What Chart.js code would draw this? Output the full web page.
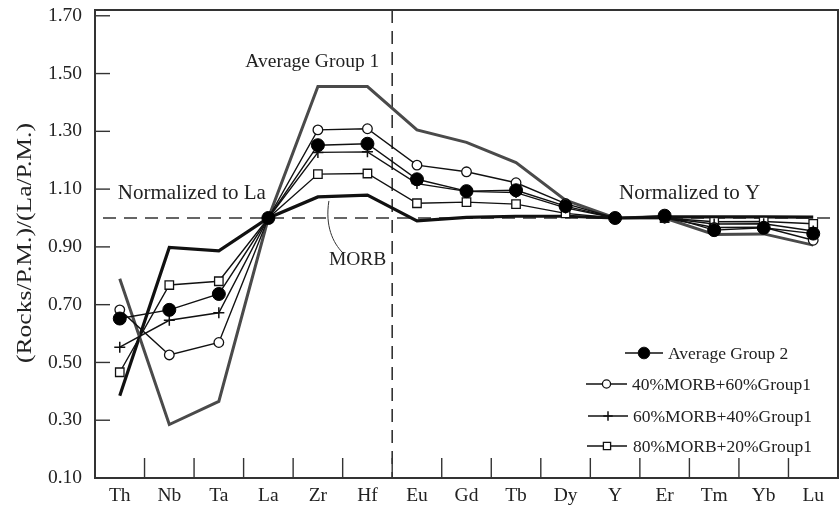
<!DOCTYPE html>
<html><head><meta charset="utf-8">
<script src="https://cdn.jsdelivr.net/npm/chart.js@4/dist/chart.umd.min.js"></script>
<style>html,body{margin:0;padding:0;background:#fff;overflow:hidden}#wrap{width:839px;height:508px}canvas{display:block}</style>
</head><body><div id="wrap"><canvas id="c" width="839" height="508"></canvas></div>
<script>
const elements = ['Th','Nb','Ta','La','Zr','Hf','Eu','Gd','Tb','Dy','Y','Er','Tm','Yb','Lu'];
const yTicks = [0.10,0.30,0.50,0.70,0.90,1.10,1.30,1.50,1.70];
const averageGroup1 = [0.79,0.285,0.365,1.00,1.455,1.455,1.305,1.262,1.192,1.062,1.00,1.00,0.943,0.945,0.906];
const morb          = [0.385,0.898,0.886,1.00,1.073,1.079,0.99,1.002,1.006,1.006,1.00,1.004,1.004,1.004,1.003];
const averageGroup2 = [0.652,0.682,0.737,1.00,1.252,1.257,1.134,1.093,1.096,1.041,1.00,1.008,0.958,0.966,0.946];
const mix40         = [0.682,0.526,0.569,1.00,1.305,1.309,1.183,1.160,1.122,1.050,1.00,1.00,0.967,0.968,0.923];
const mix60         = [0.553,0.646,0.672,1.00,1.227,1.229,1.119,1.092,1.088,1.035,1.00,1.00,0.979,0.980,0.955];
const mix80         = [0.466,0.768,0.781,1.00,1.152,1.154,1.051,1.055,1.048,1.016,1.00,1.00,0.987,0.988,0.980];
const seriesNames = ['Average Group 2','40%MORB+60%Group1','60%MORB+40%Group1','80%MORB+20%Group1','Average Group 1','MORB'];
const yTitle = '(Rocks/P.M.)/(La/P.M.)';
const SERIF = '"Liberation Serif","Times New Roman",serif';

const decor = {
  id:'decor',
  beforeDatasetsDraw(chart){
    const {ctx, chartArea:a, scales:{x,y}} = chart;
    ctx.save();
    ctx.strokeStyle = '#333'; ctx.lineWidth = 1.6;
    ctx.setLineDash([13,8]);
    const y1 = y.getPixelForValue(1.00);
    ctx.beginPath(); ctx.moveTo(a.left+8, y1); ctx.lineTo(a.right+2, y1); ctx.stroke();
    const xv = (x.getPixelForValue(5)+x.getPixelForValue(6))/2;
    ctx.beginPath(); ctx.moveTo(xv, a.top); ctx.lineTo(xv, a.bottom); ctx.stroke();
    ctx.setLineDash([]);
    ctx.lineWidth = 1.4; ctx.strokeStyle = '#333';
    yTicks.forEach(v=>{const p=y.getPixelForValue(v); ctx.beginPath(); ctx.moveTo(a.left, p); ctx.lineTo(a.left+15, p); ctx.stroke();});
    for(let i=0;i<elements.length-1;i++){
      const p=(x.getPixelForValue(i)+x.getPixelForValue(i+1))/2;
      ctx.beginPath(); ctx.moveTo(p, a.bottom); ctx.lineTo(p, a.bottom-20); ctx.stroke();
    }
    ctx.lineWidth = 2; ctx.strokeStyle='#333';
    ctx.beginPath(); ctx.moveTo(a.left, a.top); ctx.lineTo(a.right, a.top); ctx.lineTo(a.right, a.bottom); ctx.stroke();
    const sx = x.getPixelForValue(4)+11, sy = y.getPixelForValue(morb[4])+4;
    ctx.lineWidth = 1; ctx.strokeStyle='#333';
    ctx.beginPath(); ctx.moveTo(sx, sy); ctx.bezierCurveTo(sx-4, sy+25, sx+4, sy+42, sx+14, sy+52); ctx.stroke();
    ctx.restore();
  },
  afterDraw(chart){
    const {ctx, chartArea:a, scales:{x,y}} = chart;
    ctx.save();
    ctx.fillStyle = '#222'; ctx.textBaseline='middle'; ctx.textAlign='left';
    ctx.font = '19.5px '+SERIF;
    ctx.fillText('Average Group 1', x.getPixelForValue(3)-23, y.getPixelForValue(1.54));
    ctx.fillText('MORB', x.getPixelForValue(4)+11, y.getPixelForValue(0.855));
    ctx.font = '21px '+SERIF;
    ctx.fillText('Normalized to La', x.getPixelForValue(0)-2, y.getPixelForValue(1.085));
    ctx.fillText('Normalized to Y', x.getPixelForValue(10)+4, y.getPixelForValue(1.085));
    ctx.save();
    ctx.font = '20px '+SERIF;
    const w = ctx.measureText(yTitle).width;
    ctx.translate(26, 243);
    ctx.rotate(-Math.PI/2);
    ctx.scale(240/w, 1);
    ctx.textAlign='center';
    ctx.fillText(yTitle, 0, 0);
    ctx.restore();
    const legend = [
      {ds:0, x0:625, x1:663, ty:353, tx:668},
      {ds:1, x0:586, x1:627, ty:384, tx:632},
      {ds:2, x0:588, x1:628, ty:416, tx:633},
      {ds:3, x0:587, x1:627, ty:446, tx:633}
    ];
    ctx.font = '17.5px '+SERIF;
    legend.forEach(l=>{
      const d = chart.data.datasets[l.ds];
      ctx.strokeStyle='#111'; ctx.lineWidth=1.5;
      ctx.beginPath(); ctx.moveTo(l.x0, l.ty); ctx.lineTo(l.x1, l.ty); ctx.stroke();
      const st = {pointStyle:d.pointStyle, radius:d.pointRadius*(l.ds===0?0.9:0.85), rotation:0, borderWidth:d.pointBorderWidth};
      ctx.fillStyle = d.pointBackgroundColor; ctx.strokeStyle='#111'; ctx.lineWidth=d.pointBorderWidth;
      Chart.helpers.drawPoint(ctx, st, (l.x0+l.x1)/2, l.ty);
      ctx.fillStyle='#222';
      ctx.fillText(seriesNames[l.ds], l.tx, l.ty+1);
    });
    ctx.restore();
  }
};

const base = {tension:0, fill:false};
new Chart(document.getElementById('c'), {
  type:'line',
  data:{labels:elements, datasets:[
    {...base, label:seriesNames[0], data:averageGroup2, borderColor:'#111', borderWidth:1.4, pointStyle:'circle', pointRadius:6.5, pointBackgroundColor:'#000', pointBorderColor:'#000', pointBorderWidth:1},
    {...base, label:seriesNames[1], data:mix40, borderColor:'#111', borderWidth:1.4, pointStyle:'circle', pointRadius:4.8, pointBackgroundColor:'#fff', pointBorderColor:'#111', pointBorderWidth:1.3},
    {...base, label:seriesNames[2], data:mix60, borderColor:'#111', borderWidth:1.4, pointStyle:'cross', pointRadius:5.5, pointBackgroundColor:'#111', pointBorderColor:'#111', pointBorderWidth:1.5},
    {...base, label:seriesNames[3], data:mix80, borderColor:'#111', borderWidth:1.4, pointStyle:'rect', pointRadius:6, pointBackgroundColor:'#fff', pointBorderColor:'#111', pointBorderWidth:1.3},
    {...base, label:seriesNames[4], data:averageGroup1, borderColor:'#4a4a4a', borderWidth:3, pointRadius:0},
    {...base, label:seriesNames[5], data:morb, borderColor:'#111', borderWidth:3.2, pointRadius:0}
  ]},
  options:{
    responsive:false, animation:false, events:[],
    layout:{autoPadding:false, padding:{top:10,right:1,left:0,bottom:0}},
    plugins:{legend:{display:false}, tooltip:{enabled:false}},
    scales:{
      x:{type:'category', offset:true,
         grid:{display:false, drawTicks:false},
         border:{display:true, color:'#333', width:2},
         ticks:{font:{family:SERIF, size:19.5}, color:'#222', padding:6, autoSkip:false, maxRotation:0},
         afterFit(s){s.height=30; s.paddingLeft=0; s.paddingRight=0;}},
      y:{min:0.10, max:1.72,
         afterBuildTicks(s){s.ticks=yTicks.map(v=>({value:v}));},
         grid:{display:false, drawTicks:false},
         border:{display:true, color:'#333', width:2},
         ticks:{font:{family:SERIF, size:19.5}, color:'#222', padding:13, callback:v=>Number(v).toFixed(2)},
         afterFit(s){s.width=95; s.paddingTop=0; s.paddingBottom=0;}}
    }
  },
  plugins:[decor]
});
</script></body></html>
